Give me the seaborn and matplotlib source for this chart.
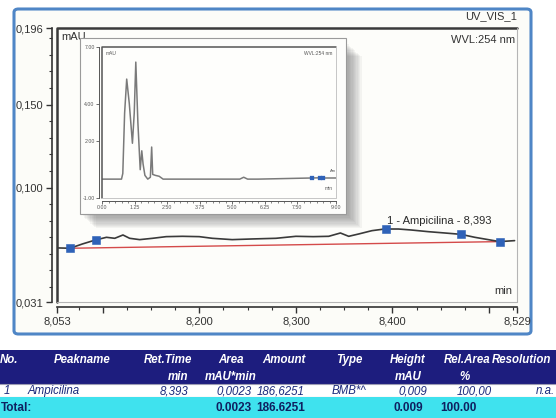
import matplotlib
matplotlib.use("Agg")
import matplotlib.pyplot as plt
import seaborn as sns
import pandas as pd
from matplotlib.patches import Rectangle, FancyBboxPatch
from matplotlib.lines import Line2D
from matplotlib.ticker import FixedLocator, FixedFormatter, MultipleLocator

# ---------------- data ----------------
main_time = [8.0536, 8.066, 8.0790, 8.0925, 8.1038, 8.1124, 8.1209, 8.1278, 8.1382, 8.1516,
             8.1657, 8.1825, 8.1999, 8.2134, 8.2340, 8.2546, 8.2794, 8.3000, 8.3180, 8.3340,
             8.3461, 8.3547, 8.3650, 8.3787, 8.3918, 8.4062, 8.4196, 8.4371, 8.4543, 8.4708,
             8.4853, 8.4992, 8.5110, 8.5265]
main_signal = [0.0636, 0.0634, 0.0660, 0.0684, 0.0700, 0.0694, 0.0714, 0.0694, 0.0686, 0.0694,
               0.0704, 0.0706, 0.0704, 0.0694, 0.0686, 0.0690, 0.0694, 0.0706, 0.0704, 0.0706,
               0.0726, 0.0706, 0.0720, 0.0740, 0.0750, 0.0750, 0.0744, 0.0734, 0.0726, 0.0718,
               0.0700, 0.0686, 0.0674, 0.0680]
marker_time = [8.066, 8.0925, 8.393, 8.4708, 8.511]
marker_signal = [0.0634, 0.0684, 0.0750, 0.0718, 0.0674]
baseline_time = [8.066, 8.511]
baseline_signal = [0.0634, 0.0674]
peak_label = "1 - Ampicilina - 8,393"
peak_label_pos = (8.394, 0.0800)

inset_time = [0.00, 0.75, 0.80, 0.87, 0.95, 1.05, 1.17, 1.24, 1.30, 1.38, 1.47, 1.53, 1.58,
              1.65, 1.76, 1.86, 1.91, 1.95, 2.05, 2.20, 2.35, 5.30, 5.45, 5.60, 6.00, 8.06,
              8.39, 8.53, 9.00]
inset_signal = [0.00, 0.00, 0.30, 3.50, 5.30, 4.00, 1.90, 3.50, 6.20, 3.00, 0.50, 1.50, 0.80,
                0.20, 0.00, 0.10, 1.70, 0.25, 0.20, 0.15, 0.00, 0.00, 0.10, 0.00, 0.00, 0.06,
                0.07, 0.06, 0.06]
inset_marker_time = [8.07, 8.39, 8.51]
inset_marker_signal = [0.06, 0.07, 0.06]

x_ticks = [8.053, 8.1, 8.2, 8.3, 8.4, 8.5, 8.529]
x_labels = ["8,053", "", "8,200", "8,300", "8,400", "", "8,529"]
y_ticks = [0.031, 0.100, 0.150, 0.196]
y_labels = ["0,031", "0,100", "0,150", "0,196"]
inset_x_ticks = [0, 1.25, 2.5, 3.75, 5.0, 6.25, 7.5, 9.0]
inset_x_labels = ["0.00", "1.25", "2.50", "3.75", "5.00", "6.25", "7.50", "9.00"]
inset_y_ticks = [-1, 2, 4, 7]
inset_y_labels = ["-1.00", "2.00", "4.00", "7.00"]

header_line1 = ["No.", "Peakname", "Ret.Time", "Area", "Amount", "Type", "Height", "Rel.Area", "Resolution"]
header_line2 = ["", "", "min", "mAU*min", "", "", "mAU", "%", ""]
row_values = ["1", "Ampicilina", "8,393", "0,0023", "186,6251", "BMB*^", "0,009", "100,00", "n.a."]
total_values = ["Total:", "", "", "0.0023", "186.6251", "", "0.009", "100.00", ""]

# ---------------- figure ----------------
W, H = 556, 418
sns.set_style("ticks")
plt.rcParams["font.family"] = ["Liberation Sans", "DejaVu Sans"]

fig = plt.figure(figsize=(W / 100, H / 100), dpi=100)
fig.patch.set_facecolor("white")


def fx(x):
    return x / W


def fy(y):
    return 1 - y / H


# outer blue rounded frame
fig.patches.append(FancyBboxPatch((fx(14), fy(334)), fx(531) - fx(14), fy(9) - fy(334),
                                  boxstyle="round,pad=0,rounding_size=0.008",
                                  transform=fig.transFigure, fc="#fcfcf8", ec="#4f86c6",
                                  lw=2.2, zorder=0))

# ---------------- main axes ----------------
ax = fig.add_axes([fx(57.4), fy(302), fx(517) - fx(57.4), fy(28.3) - fy(302)])
ax.set_zorder(1)
ax.set_facecolor("#fdfdfa")
main_df = pd.DataFrame({"t": main_time, "s": main_signal})
sns.lineplot(data=main_df, x="t", y="s", ax=ax, color="#3a3a3a", lw=1.2, zorder=3)
base_df = pd.DataFrame({"t": baseline_time, "s": baseline_signal})
sns.lineplot(data=base_df, x="t", y="s", ax=ax, color="#d44a4a", lw=1.0, zorder=2)
mk_df = pd.DataFrame({"t": marker_time, "s": marker_signal})
sns.scatterplot(data=mk_df, x="t", y="s", ax=ax, marker="s", s=26, color="#2f62b8",
                edgecolor="#2f62b8", zorder=4)
ax.text(peak_label_pos[0], peak_label_pos[1], peak_label, fontsize=8, color="#2a2a2a",
        ha="left", va="center")
ax.set_xlim(8.053, 8.529)
ax.set_ylim(0.031, 0.196)
ax.set_xlabel("")
ax.set_ylabel("")
ax.xaxis.set_major_locator(FixedLocator(x_ticks))
ax.xaxis.set_major_formatter(FixedFormatter(x_labels))
ax.xaxis.set_minor_locator(MultipleLocator(0.025))
ax.yaxis.set_major_locator(FixedLocator(y_ticks))
ax.yaxis.set_major_formatter(FixedFormatter(y_labels))
ax.yaxis.set_minor_locator(MultipleLocator(0.01))
ax.tick_params(axis="both", which="major", direction="out", length=4.5, width=1.0,
               colors="#333333", labelsize=8, pad=2)
ax.tick_params(axis="both", which="minor", direction="out", length=2.5, width=0.8,
               colors="#333333")
for side in ["top", "right"]:
    ax.spines[side].set_visible(False)
for side in ["left", "bottom"]:
    ax.spines[side].set_position(("outward", 3.8))
    ax.spines[side].set_color("#333333")
    ax.spines[side].set_linewidth(1.2)
# frame
ax.add_line(Line2D([0, 0, 1], [0, 1, 1], transform=ax.transAxes, color="#3a3a3a",
                   lw=1.8, clip_on=False, zorder=5))
ax.add_line(Line2D([0, 1, 1], [0, 0, 1], transform=ax.transAxes, color="#b5b5b5",
                   lw=0.8, clip_on=False, zorder=5))
ax.text(0.008, 0.968, "mAU", transform=ax.transAxes, fontsize=8, color="#333", ha="left", va="center")
ax.text(0.995, 0.957, "WVL:254 nm", transform=ax.transAxes, fontsize=8, color="#333", ha="right", va="center")
ax.text(0.99, 0.04, "min", transform=ax.transAxes, fontsize=8, color="#333", ha="right", va="center")
fig.text(fx(517), fy(16), "UV_VIS_1", fontsize=8, color="#333", ha="right", va="center")

# ---------------- inset panel with shadow ----------------
for k in range(1, 13):
    fig.patches.append(Rectangle((fx(80 + 1.3 * k), fy(214 + 1.2 * k)), fx(346) - fx(80),
                                 fy(42) - fy(214), transform=fig.transFigure,
                                 fc="#606060", ec="none", alpha=0.06, zorder=1.5))
fig.patches.append(Rectangle((fx(80), fy(214)), fx(346) - fx(80), fy(38) - fy(214),
                             transform=fig.transFigure, fc="#fdfdfb", ec="#9a9a9a",
                             lw=0.8, zorder=2))

iax = fig.add_axes([fx(102), fy(198), fx(336) - fx(102), fy(47) - fy(198)])
iax.set_zorder(3)
iax.set_facecolor("#fefefc")
in_df = pd.DataFrame({"t": inset_time, "s": inset_signal})
sns.lineplot(data=in_df, x="t", y="s", ax=iax, color="#7a7a7a", lw=1.1)
imk_df = pd.DataFrame({"t": inset_marker_time, "s": inset_marker_signal})
sns.scatterplot(data=imk_df, x="t", y="s", ax=iax, marker="s", s=6, color="#2f62b8",
                edgecolor="#2f62b8", zorder=4)
iax.set_xlim(0, 9.0)
iax.set_ylim(-1, 7)
iax.set_xlabel("")
iax.set_ylabel("")
iax.xaxis.set_major_locator(FixedLocator(inset_x_ticks))
iax.xaxis.set_major_formatter(FixedFormatter(inset_x_labels))
iax.xaxis.set_minor_locator(MultipleLocator(0.25))
iax.yaxis.set_major_locator(FixedLocator(inset_y_ticks))
iax.yaxis.set_major_formatter(FixedFormatter(inset_y_labels))
iax.tick_params(axis="both", which="major", direction="out", length=2.2, width=0.6,
                colors="#555555", labelsize=3.8, pad=1)
iax.tick_params(axis="both", which="minor", direction="out", length=1.2, width=0.5,
                colors="#555555")
for side in ["top", "right"]:
    iax.spines[side].set_visible(False)
for side in ["left", "bottom"]:
    iax.spines[side].set_position(("outward", 2))
    iax.spines[side].set_color("#555555")
    iax.spines[side].set_linewidth(0.7)
iax.add_line(Line2D([0, 0, 1], [0, 1, 1], transform=iax.transAxes, color="#555555",
                    lw=1.1, clip_on=False, zorder=5))
iax.add_line(Line2D([0, 1, 1], [0, 0, 1], transform=iax.transAxes, color="#bdbdbd",
                    lw=0.6, clip_on=False, zorder=5))
iax.text(0.015, 0.96, "mAU", transform=iax.transAxes, fontsize=3.5, color="#555", ha="left", va="center")
iax.text(0.985, 0.96, "WVL:254 nm", transform=iax.transAxes, fontsize=3.5, color="#555", ha="right", va="center")
iax.text(0.985, 0.06, "min", transform=iax.transAxes, fontsize=3.5, color="#555", ha="right", va="center")
iax.text(0.975, 0.18, "Am", transform=iax.transAxes, fontsize=3.0, color="#555", ha="left", va="center")

# ---------------- results table ----------------
navy = "#1d1d7e"
cyan = "#3fe2ee"
fig.patches.append(Rectangle((fx(-2), fy(384)), fx(560), fy(350) - fy(384),
                             transform=fig.transFigure, fc=navy, ec="none", zorder=1))
fig.patches.append(Rectangle((fx(-2), fy(397)), fx(560), fy(384) - fy(397),
                             transform=fig.transFigure, fc="white", ec="#9c9cb4", lw=0.8, zorder=1))
fig.patches.append(Rectangle((fx(-2), fy(420)), fx(560), fy(397) - fy(420),
                             transform=fig.transFigure, fc=cyan, ec="none", zorder=1))

# column anchors (pixel x, alignment)
head_pos = [(0, "left"), (82, "center"), (192, "right"), (231, "center"), (284, "center"),
            (349, "center"), (408, "center"), (467, "center"), (492, "left")]
head2_pos = [(0, "left"), (0, "left"), (188, "right"), (231, "center"), (0, "left"),
             (0, "left"), (408, "center"), (465, "center"), (0, "left")]
row_pos = [(7, "center"), (28, "left"), (188, "right"), (252, "right"), (305, "right"),
           (332, "left"), (427, "right"), (492, "right"), (555, "right")]
total_pos = [(1, "left"), (0, "left"), (0, "left"), (252, "right"), (305, "right"),
             (0, "left"), (423, "right"), (477, "right"), (0, "left")]

for txt, (x, ha) in zip(header_line1, head_pos):
    if txt:
        fig.text(fx(x), fy(360), txt, fontsize=8.3, color="white", fontweight="bold",
                 fontstyle="italic", ha=ha, va="center", zorder=3)
for txt, (x, ha) in zip(header_line2, head2_pos):
    if txt:
        fig.text(fx(x), fy(377), txt, fontsize=8.3, color="white", fontweight="bold",
                 fontstyle="italic", ha=ha, va="center", zorder=3)
for txt, (x, ha) in zip(row_values, row_pos):
    if txt:
        fig.text(fx(x), fy(391), txt, fontsize=8.3, color="#1c2a7c", fontstyle="italic",
                 ha=ha, va="center", zorder=3)
for txt, (x, ha) in zip(total_values, total_pos):
    if txt:
        fig.text(fx(x), fy(408), txt, fontsize=8.5, color="#0f2060", fontweight="bold",
                 ha=ha, va="center", zorder=3)

fig.savefig("out.png", dpi=100)
